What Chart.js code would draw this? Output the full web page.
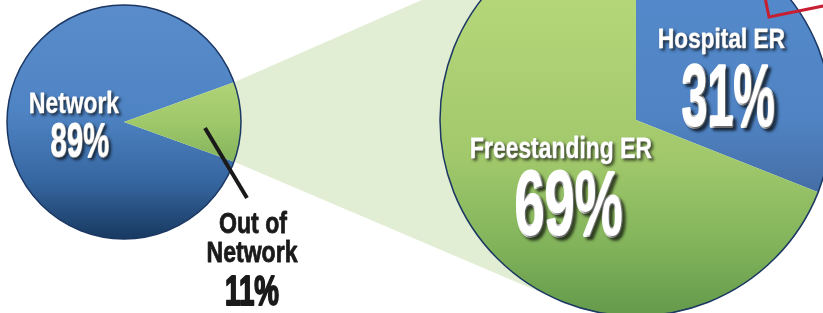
<!DOCTYPE html>
<html>
<head>
<meta charset="utf-8">
<script src="https://cdn.jsdelivr.net/npm/chart.js@4/dist/chart.umd.min.js"></script>
<style>
  html, body { margin: 0; padding: 0; background: #fff; }
  #wrap { position: relative; width: 823px; height: 313px; overflow: hidden; }
  #wrap canvas { position: absolute; }
  #funnel { left: 0; top: 0; }
  #small-chart { left: 0; top: 0; }
  #big-chart { left: 436px; top: -80px; }
</style>
</head>
<body>
<div id="wrap">
  <canvas id="funnel" width="823" height="313"></canvas>
  <canvas id="small-chart" width="330" height="313"></canvas>
  <canvas id="big-chart" width="400" height="400"></canvas>
</div>
<script>
const smallLabels = ['Network', 'Out of Network'];
const smallValues = [89, 11];
const bigLabels = ['Hospital ER', 'Freestanding ER'];
const bigValues = [31, 69];

const FONT = '"Liberation Sans Narrow", "Liberation Sans", Arial, sans-serif';
const OUTLINE = '#1b3763';

// draw text by cap height, squeezed to a target width (condensed look)
function drawText(ctx, text, cx, base, cap, width, color, shadow, weight) {
    const size = cap / 0.716;
    ctx.save();
    ctx.font = `bold ${size}px ${FONT}`;
    const w = ctx.measureText(text).width;
    if (shadow) {
        ctx.shadowColor = 'rgba(0, 0, 0, 0.6)';
        ctx.shadowOffsetX = shadow;
        ctx.shadowOffsetY = shadow;
        ctx.shadowBlur = 3;
    }
    ctx.translate(cx, base);
    ctx.scale(width / w, 1);
    ctx.textAlign = 'center';
    ctx.textBaseline = 'alphabetic';
    ctx.fillStyle = color;
    if (weight) {
        ctx.lineWidth = weight;
        ctx.lineJoin = 'round';
        ctx.strokeStyle = color;
        ctx.strokeText(text, 0, 0);
    }
    ctx.fillText(text, 0, 0);
    ctx.restore();
}

function gradientFill(stops) {
    return function (context) {
        const chart = context.chart;
        const area = chart.chartArea;
        const list = stops[context.dataIndex];
        if (!area) return list[0][1];
        const g = chart.ctx.createLinearGradient(0, area.top, 0, area.bottom);
        list.forEach(s => g.addColorStop(s[0], s[1]));
        return g;
    };
}

function splitLast(s) {
    const i = s.lastIndexOf(' ');
    return [s.slice(0, i), s.slice(i + 1)];
}

const smallPlugin = {
    id: 'smallLabels',
    afterDatasetsDraw(chart) {
        const ctx = chart.ctx;
        const arc = chart.getDatasetMeta(0).data[0];
        const { x, y, outerRadius: r } = arc;

        ctx.save();
        ctx.beginPath();
        ctx.arc(x, y, r, 0, Math.PI * 2);
        ctx.lineWidth = 1.5;
        ctx.strokeStyle = OUTLINE;
        ctx.stroke();

        // leader line to the outside label
        ctx.beginPath();
        ctx.moveTo(x + 81, y + 6);
        ctx.lineTo(x + 123, y + 76);
        ctx.lineWidth = 4;
        ctx.strokeStyle = '#1a1a1a';
        ctx.stroke();
        ctx.restore();

        drawText(ctx, smallLabels[0], x - 50, y - 9.5, 21.5, 90, '#fff', 2, 0.8);
        drawText(ctx, smallValues[0] + '%', x - 44, y + 34.5, 35, 58.5, '#fff', 2, 2);

        const lines = splitLast(smallLabels[1]);
        drawText(ctx, lines[0], x + 129, y + 111.3, 21.5, 68, '#1a1a1a', 0, 0.8);
        drawText(ctx, lines[1], x + 128, y + 139.7, 20.5, 91, '#1a1a1a', 0, 0.8);
        drawText(ctx, smallValues[1] + '%', x + 128, y + 183, 30, 54, '#1a1a1a', 0, 2);
    }
};

const bigPlugin = {
    id: 'bigLabels',
    afterDatasetsDraw(chart) {
        const ctx = chart.ctx;
        const arc = chart.getDatasetMeta(0).data[0];
        const { x, y, outerRadius: r } = arc;

        ctx.save();
        ctx.beginPath();
        ctx.arc(x, y, r, 0, Math.PI * 2);
        ctx.lineWidth = 1.5;
        ctx.strokeStyle = OUTLINE;
        ctx.stroke();

        // corner of the red stamp box sticking in at the top right
        ctx.translate(x + 133, y - 103);
        ctx.rotate(-11.5 * Math.PI / 180);
        ctx.lineWidth = 3;
        ctx.strokeStyle = '#c81e32';
        ctx.strokeRect(0, -70, 90, 70);
        ctx.restore();

        drawText(ctx, bigLabels[0], x + 85.5, y - 72.5, 19.5, 127, '#fff', 2, 0.8);
        drawText(ctx, bigValues[0] + '%', x + 92.5, y + 6, 63, 93, '#fff', 3, 3.5);
        drawText(ctx, bigLabels[1], x - 75, y + 37.5, 20.5, 182, '#fff', 2, 0.8);
        drawText(ctx, bigValues[1] + '%', x - 67, y + 115, 65, 108, '#fff', 3, 3.5);
    }
};

const smallChart = new Chart(document.getElementById('small-chart'), {
    type: 'pie',
    data: {
        labels: smallLabels,
        datasets: [{
            data: smallValues,
            backgroundColor: gradientFill([
                [[0, '#5a8ccb'], [0.45, '#4f84c4'], [0.75, '#3767a1'], [1, '#173960']],
                [[0.3, '#b3d57a'], [0.5, '#9fc86a'], [0.7, '#80b05a']]
            ]),
            borderWidth: 0
        }]
    },
    options: {
        responsive: false,
        animation: false,
        events: [],
        rotation: 90 + smallValues[1] / 100 * 180,
        layout: { padding: { left: 7, top: 5, right: 89, bottom: 74 } },
        plugins: { legend: { display: false }, tooltip: { enabled: false } }
    },
    plugins: [smallPlugin]
});

const bigChart = new Chart(document.getElementById('big-chart'), {
    type: 'pie',
    data: {
        labels: bigLabels,
        datasets: [{
            data: bigValues,
            backgroundColor: gradientFill([
                [[0.2, '#5389ca'], [0.5, '#5083c3'], [0.75, '#41669b']],
                [[0.2, '#b4d679'], [0.6, '#a1c86b'], [0.83, '#80b25a'], [0.98, '#669c4c']]
            ]),
            borderWidth: 0
        }]
    },
    options: {
        responsive: false,
        animation: false,
        events: [],
        layout: { padding: 4 },
        plugins: { legend: { display: false }, tooltip: { enabled: false } }
    },
    plugins: [bigPlugin]
});

// light green band joining the small wedge to the big pie
function drawFunnel() {
    const cv = document.getElementById('funnel');
    const ctx = cv.getContext('2d');
    const base = cv.getBoundingClientRect();
    const sr = smallChart.canvas.getBoundingClientRect();
    const br = bigChart.canvas.getBoundingClientRect();
    const sa = smallChart.getDatasetMeta(0).data[1];
    const ba = bigChart.getDatasetMeta(0).data[0];

    const sx = sa.x + sr.left - base.left, sy = sa.y + sr.top - base.top;
    const C = { x: ba.x + br.left - base.left, y: ba.y + br.top - base.top };
    const R = ba.outerRadius;
    const P1 = { x: sx + sa.outerRadius * Math.cos(sa.startAngle), y: sy + sa.outerRadius * Math.sin(sa.startAngle) };
    const P2 = { x: sx + sa.outerRadius * Math.cos(sa.endAngle), y: sy + sa.outerRadius * Math.sin(sa.endAngle) };

    function tangent(P, sign) {
        const dx = C.x - P.x, dy = C.y - P.y;
        const d = Math.hypot(dx, dy);
        const a = Math.atan2(dy, dx) + sign * Math.asin(R / d);
        const L = Math.sqrt(d * d - R * R);
        return { x: P.x + L * Math.cos(a), y: P.y + L * Math.sin(a) };
    }
    const T1 = tangent(P1, -1);
    const T2 = tangent(P2, 1);

    ctx.beginPath();
    ctx.moveTo(P1.x, P1.y);
    ctx.lineTo(T1.x, T1.y);
    ctx.lineTo(C.x, C.y);
    ctx.lineTo(T2.x, T2.y);
    ctx.lineTo(P2.x, P2.y);
    ctx.closePath();
    ctx.fillStyle = '#e1eed4';
    ctx.fill();
}
drawFunnel();
</script>
</body>
</html>
